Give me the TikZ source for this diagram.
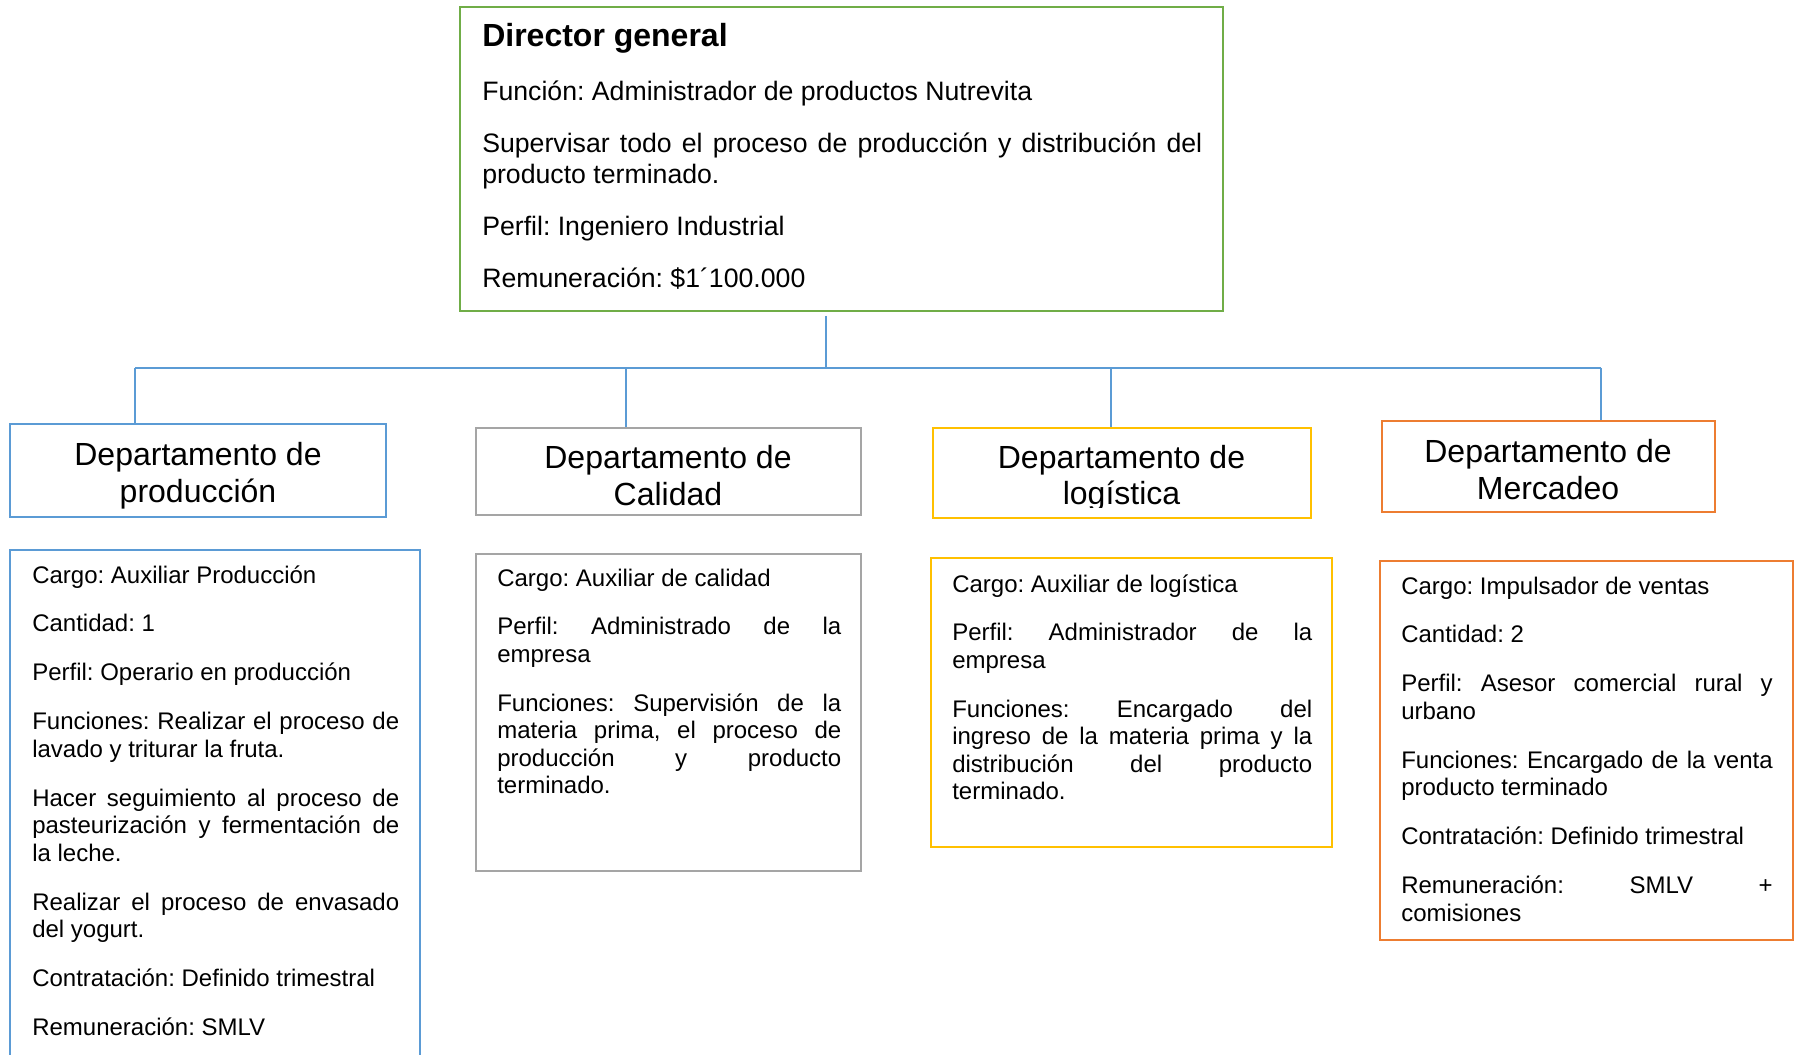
\documentclass[tikz,border=0pt]{standalone}
\usepackage{fontspec}
\setmainfont{Liberation Sans}
\usetikzlibrary{fit,calc}
\definecolor{cgreen}{HTML}{70AD47}
\definecolor{cblue}{HTML}{5B9BD5}
\definecolor{cgray}{HTML}{A5A5A5}
\definecolor{cgold}{HTML}{FFC000}
\definecolor{corange}{HTML}{ED7D31}
\tolerance=10000
\hyphenpenalty=10000
\exhyphenpenalty=10000
\hbadness=10000
\frenchspacing
\begin{document}
\begin{tikzpicture}[x=0.75pt,y=-0.75pt,
  frame/.style={inner sep=0pt, line width=1.7pt},
  conn/.style={draw=cblue, line width=0.9pt},
  head/.style={inner sep=0pt, align=center, font=\fontsize{24}{27.5}\selectfont\frenchspacing},
  body/.style={inner sep=0pt, anchor=base west, align=justify, font=\fontsize{18}{20.6}\selectfont\frenchspacing\setlength{\parskip}{16.1pt}},
  dbody/.style={inner sep=0pt, anchor=base west, align=justify, font=\fontsize{20}{23.25}\selectfont\frenchspacing\setlength{\parskip}{15.6pt}}
]
\useasboundingbox[fill=white] (0,0) rectangle (1798,1055);

% Director
\node[frame, draw=cgreen, fit={(460,7) (1223,311)}] (dir) {};
\node[inner sep=0pt, anchor=base west, font=\fontsize{24}{28}\selectfont\bfseries] (dirT) at (482,46.7) {Director general};
\node[dbody, text width=540pt] (dirB) at (482,101) {Función: Administrador de productos Nutrevita\par
Supervisar todo el proceso de producción y distribución del\linebreak producto terminado.\par
Perfil: Ingeniero Industrial\par
Remuneración: \$1´100.000};

% Headers
\node[frame, draw=cblue, fit={(10,424) (386,517)}] (hp) {};
\node[frame, draw=cgray, fit={(476,428) (861,515)}] (hc) {};
\node[frame, draw=cgold, fit={(933,428) (1311,518)}] (hl) {};
\node[frame, draw=corange, fit={(1382,421) (1715,512)}] (hm) {};
\node[head] (hpT) at (198,475.5) {Departamento de\\producción};
\node[head] (hcT) at (668,475.7) {Departamento de\\Calidad};
\begin{scope}
\clip (933,428) rectangle (1311,507);
\node[head] (hlT) at (1121.5,478.2) {Departamento de\\logística};
\end{scope}
\node[head] (hmT) at (1548,469.4) {Departamento de\\Mercadeo};

% Detail boxes
\node[frame, draw=cblue, fit={(10,550) (420,1075)}] (dp) {};
\node[frame, draw=cgray, fit={(476,554) (861,871)}] (dc) {};
\node[frame, draw=cgold, fit={(931,558) (1332,847)}] (dl) {};
\node[frame, draw=corange, fit={(1380,561) (1793,940)}] (dm) {};

\node[body, text width=275.25pt] (dpT) at (32,583) {Cargo: Auxiliar Producción\par
Cantidad: 1\par
Perfil: Operario en producción\par
Funciones: Realizar el proceso de\linebreak lavado y triturar la fruta.\par
Hacer seguimiento al proceso de\linebreak pasteurización y fermentación de\linebreak la leche.\par
Realizar el proceso de envasado\linebreak del yogurt.\par
Contratación: Definido trimestral\par
Remuneración: SMLV};

\node[body, text width=258pt] (dcT) at (497,586) {Cargo: Auxiliar de calidad\par
Perfil: Administrado de la\linebreak empresa\par
Funciones: Supervisión de la\linebreak materia prima, el proceso de\linebreak producción y producto\linebreak terminado.};

\node[body, text width=270pt] (dlT) at (952,592) {Cargo: Auxiliar de logística\par
Perfil: Administrador de la\linebreak empresa\par
Funciones: Encargado del\linebreak ingreso de la materia prima y la\linebreak distribución del producto\linebreak terminado.};

\node[body, text width=278.6pt] (dmT) at (1401,594) {Cargo: Impulsador de ventas\par
Cantidad: 2\par
Perfil: Asesor comercial rural y\linebreak urbano\par
Funciones: Encargado de la venta\linebreak producto terminado\par
Contratación: Definido trimestral\par
Remuneración: SMLV +\linebreak comisiones};

% Connectors
\coordinate (c0) at (826,316);
\coordinate (bus0) at (826,368);
\coordinate (b1) at (135,368);
\coordinate (b2) at (626,368);
\coordinate (b3) at (1111,368);
\coordinate (b4) at (1601,368);
\draw[conn] (c0) -- (bus0);
\draw[conn] (b1) -- (b4);
\draw[conn] (b1) -- (b1 |- hp.north);
\draw[conn] (b2) -- (b2 |- hc.north);
\draw[conn] (b3) -- (b3 |- hl.north);
\draw[conn] (b4) -- (b4 |- hm.north);
\end{tikzpicture}
\end{document}
